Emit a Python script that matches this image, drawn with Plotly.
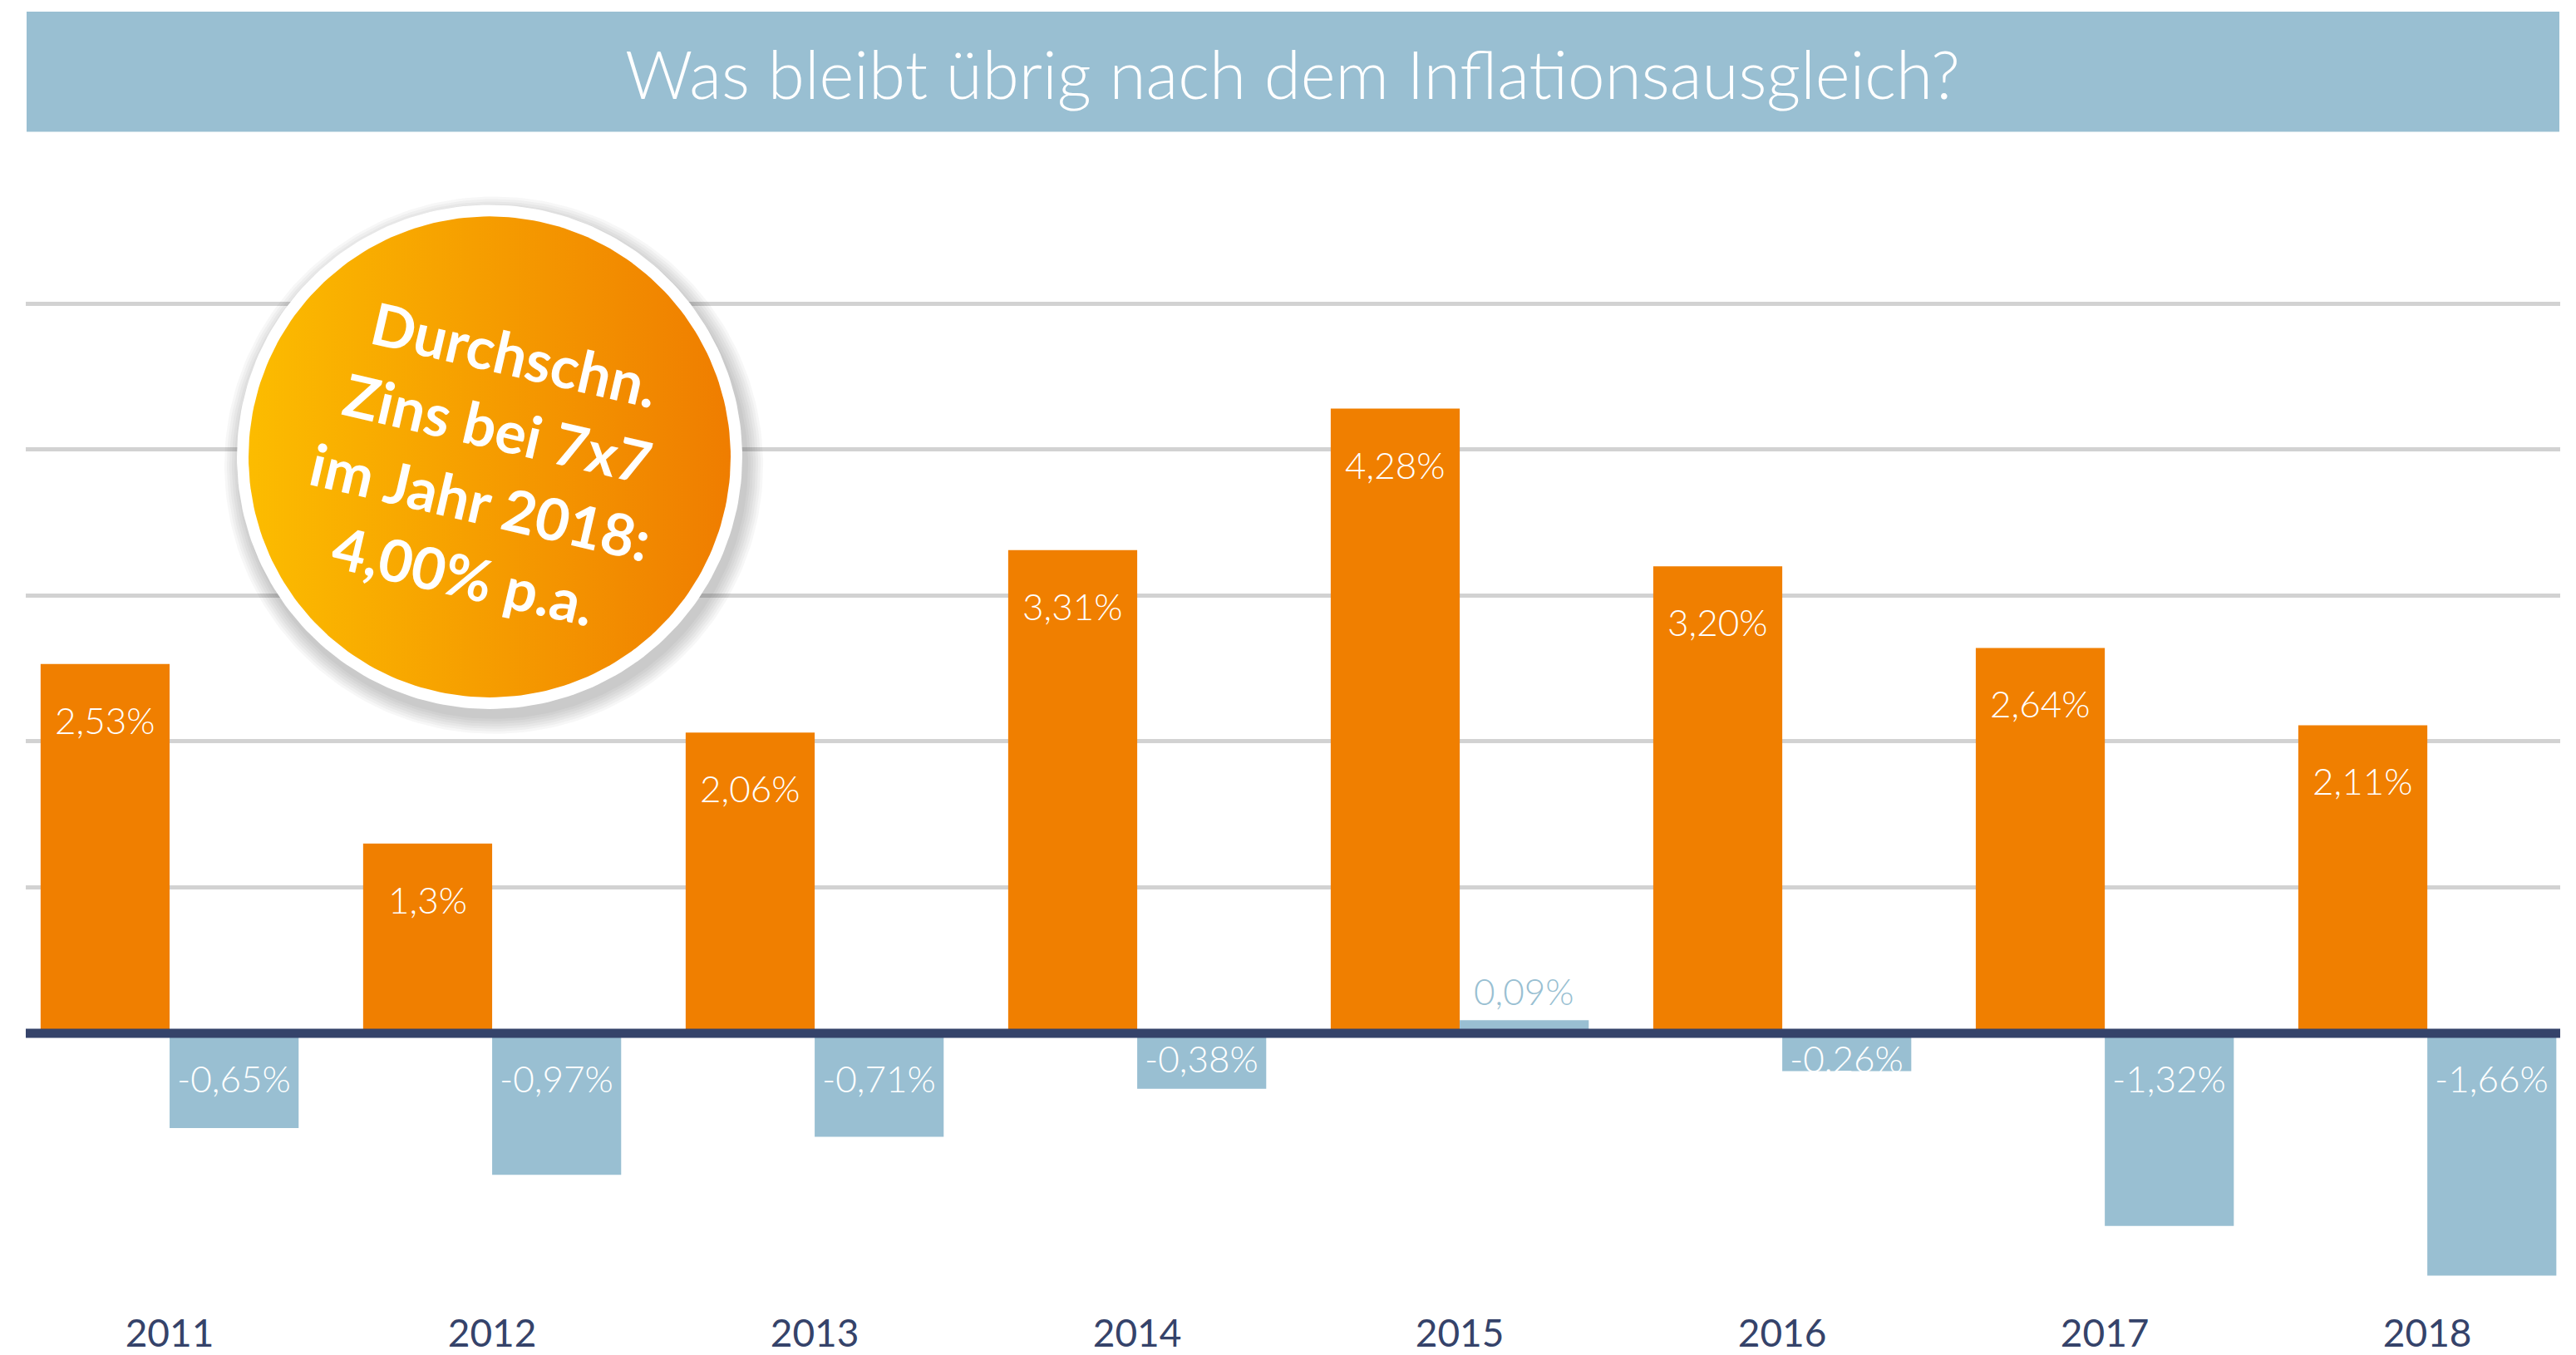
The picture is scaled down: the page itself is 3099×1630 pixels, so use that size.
import numpy as np
import plotly.graph_objects as go

# --- data -------------------------------------------------------------
YEARS = ["2011", "2012", "2013", "2014", "2015", "2016", "2017", "2018"]
ZINS = [2.53, 1.30, 2.06, 3.31, 4.28, 3.20, 2.64, 2.11]          # Zins 7x7
REAL = [-0.65, -0.97, -0.71, -0.38, 0.09, -0.26, -1.32, -1.66]   # nach Inflation
ZINS_LABELS = ["2,53%", "1,3%", "2,06%", "3,31%", "4,28%", "3,20%", "2,64%", "2,11%"]
REAL_LABELS = ["-0,65%", "-0,97%", "-0,71%", "-0,38%", "0,09%", "-0,26%", "-1,32%", "-1,66%"]
TITLE = "Was bleibt übrig nach dem Inflationsausgleich?"
BADGE_LINES = ["Durchschn.", "Zins bei 7x7", "im Jahr 2018:", "4,00% p.a."]

# --- style ------------------------------------------------------------
W, H = 3099, 1630
ORANGE = "#f07f00"
BLUE = "#99bfd2"
NAVY = "#35436a"
GRID = "#d2d2d2"
FONT = "Lato"
LABEL_SIZE = 44

PLOT_L, PLOT_R = 31, 3080          # plot area, px
ZERO_PX = 1246                     # y pixel of the zero line
PX_PER_PCT = 176
Y_RANGE = (-1.8, 5.8)
X_RANGE = (-0.446, 7.412)
BAR_W = 0.4

y_top_px = ZERO_PX - Y_RANGE[1] * PX_PER_PCT
y_bot_px = ZERO_PX - Y_RANGE[0] * PX_PER_PCT
y_domain = [(H - y_bot_px) / H, (H - y_top_px) / H]

idx = list(range(len(YEARS)))

fig = go.Figure()
fig.add_trace(go.Bar(x=idx, y=ZINS, width=BAR_W, offset=-BAR_W,
                     marker=dict(color=ORANGE, line=dict(width=0)), hoverinfo="skip"))
fig.add_trace(go.Bar(x=idx, y=REAL, width=BAR_W, offset=0,
                     marker=dict(color=BLUE, line=dict(width=0)), hoverinfo="skip"))

annotations = []
for i, (v, t) in enumerate(zip(ZINS, ZINS_LABELS)):
    annotations.append(dict(x=i - BAR_W / 2, y=v, xref="x", yref="y", text=t,
                            showarrow=False, yshift=-67, yanchor="middle",
                            font=dict(family=FONT, size=LABEL_SIZE, color="white", weight=300)))
for i, (v, t) in enumerate(zip(REAL, REAL_LABELS)):
    if v >= 0:
        annotations.append(dict(x=i + BAR_W / 2, y=v, xref="x", yref="y", text=t,
                                showarrow=False, yshift=35, yanchor="middle",
                                font=dict(family=FONT, size=LABEL_SIZE, color=BLUE, weight=300)))
    else:
        shift = -30 if v > -0.5 else -54
        annotations.append(dict(x=i + BAR_W / 2, y=0, xref="x", yref="y", text=t,
                                showarrow=False, yshift=shift, yanchor="middle",
                                font=dict(family=FONT, size=LABEL_SIZE, color="white", weight=300)))

# title band
annotations.append(dict(x=1555 / W, y=1 - 88 / H, xref="paper", yref="paper", text=TITLE,
                        showarrow=False, xanchor="center", yanchor="middle",
                        font=dict(family=FONT, size=80, color="white", weight=300)))

# --- badge (pixel space on x2/y2) -------------------------------------
CX, CY, R_OUT, R_IN = 589, 551, 304, 290
theta = np.linspace(0, 2 * np.pi, 241)

for k in range(7):
    r = R_OUT + 2 + k * 3
    fig.add_trace(go.Scatter(x=CX + 5 + r * np.cos(theta), y=CY + 10 + r * np.sin(theta),
                             xaxis="x2", yaxis="y2", mode="lines", line=dict(width=0),
                             fill="toself", fillcolor="rgba(40,40,40,0.04)", hoverinfo="skip"))
fig.add_trace(go.Scatter(x=CX + R_OUT * np.cos(theta), y=CY + R_OUT * np.sin(theta),
                         xaxis="x2", yaxis="y2", mode="lines", line=dict(width=0),
                         fill="toself", fillcolor="white", hoverinfo="skip"))
fig.add_trace(go.Scatter(x=CX + R_IN * np.cos(theta), y=CY + R_IN * np.sin(theta),
                         xaxis="x2", yaxis="y2", mode="lines", line=dict(width=0),
                         fill="toself",
                         fillgradient=dict(type="horizontal",
                                           colorscale=[[0, "#fcbc00"], [1, "#ef7d00"]]),
                         hoverinfo="skip"))
annotations.append(dict(x=588, y=560, xref="x2", yref="y2", text="<br>".join(BADGE_LINES),
                        showarrow=False, textangle=13, align="center",
                        xanchor="center", yanchor="middle",
                        font=dict(family=FONT, size=70, color="white", weight=700)))

shapes = [
    dict(type="rect", xref="paper", yref="paper", x0=32 / W, x1=3079 / W,
         y0=1 - 159 / H, y1=1 - 14 / H, fillcolor=BLUE, line=dict(width=0), layer="below"),
    dict(type="line", xref="paper", yref="y", x0=PLOT_L / W, x1=PLOT_R / W, y0=0, y1=0,
         line=dict(color=NAVY, width=11), layer="above"),
]

fig.update_layout(
    width=W, height=H,
    margin=dict(l=0, r=0, t=0, b=0),
    paper_bgcolor="white", plot_bgcolor="rgba(0,0,0,0)",
    showlegend=False,
    barmode="overlay",
    xaxis=dict(domain=[PLOT_L / W, PLOT_R / W], range=list(X_RANGE), tickvals=idx,
               ticktext=YEARS, showgrid=False, zeroline=False, showline=False, ticks="",
               ticklabelstandoff=14,
               tickfont=dict(family=FONT, size=46, color=NAVY, weight=400)),
    yaxis=dict(domain=y_domain, range=list(Y_RANGE), tickvals=[1, 2, 3, 4, 5],
               showticklabels=False, showgrid=True, gridcolor=GRID, gridwidth=5,
               zeroline=False, showline=False),
    xaxis2=dict(domain=[0, 1], range=[0, W], anchor="y2", visible=False),
    yaxis2=dict(domain=[0, 1], range=[H, 0], anchor="x2", visible=False),
    annotations=annotations,
    shapes=shapes,
)

fig.write_html("out.html", config={"displayModeBar": False},
               post_script="document.body.style.margin='0';")
